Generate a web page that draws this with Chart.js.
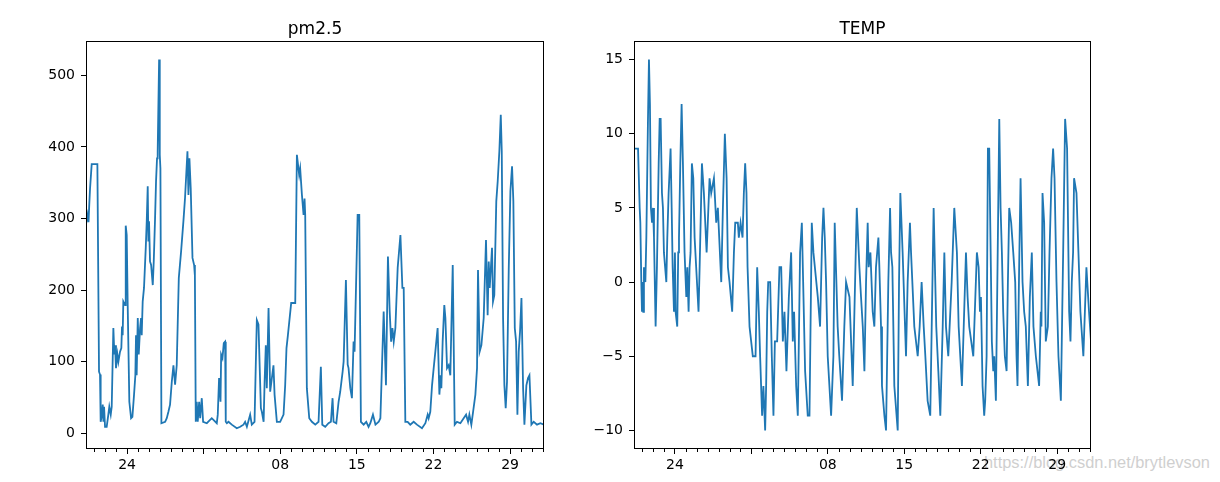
<!DOCTYPE html>
<html>
<head>
<meta charset="utf-8">
<script src="https://cdn.jsdelivr.net/npm/chart.js@4.4.1/dist/chart.umd.min.js"></script>
<style>
  body { margin: 0; background: #fff; width: 1220px; height: 482px; overflow: hidden; position: relative; }
  #mark { position: absolute; left: 984px; top: 453px; font: 16.4px "Liberation Sans", sans-serif; color: #cfcfcf; white-space: nowrap; }
  #pmChart { position: absolute; left: 0; top: 0; }
  #tempChart { position: absolute; left: 580px; top: 0; }
</style>
</head>
<body>
<div id="mark">https://blog.csdn.net/brytlevson</div>
<canvas id="pmChart" width="580" height="482"></canvas>
<canvas id="tempChart" width="640" height="482"></canvas>
<script>
// x values are day numbers counted from 1 Nov (so 31 = 1 Dec, 38 = 8 Dec ...)
var dayMin = 20.25, dayMax = 62.1;
var weekDays = [24, 31, 38, 45, 52, 59];
var weekLabels = ['24', '', '08', '15', '22', '29'];
var everyDay = [21,22,23,25,26,27,28,29,30,32,33,34,35,36,37,39,40,41,42,43,44,46,47,48,49,50,51,53,54,55,56,57,58,60,61,62];

var pmTicks = [0, 100, 200, 300, 400, 500];
var tempTicks = [-10, -5, 0, 5, 10, 15];

// [day, pm2.5]
var pm25 = [
  [20.25,292],[20.40,305],[20.48,295],[20.55,320],[20.62,342],[20.77,376],[21.29,376],[21.44,86],[21.53,82],[21.59,16],
  [21.70,25],[21.78,40],[21.84,16],[21.90,37],[21.99,9],[22.14,9],[22.29,26],[22.38,37],[22.51,26],[22.60,37],
  [22.75,147],[22.84,110],[22.90,123],[22.99,91],[23.12,110],[23.21,100],[23.36,114],[23.48,119],[23.54,149],[23.60,137],
  [23.66,184],[23.82,179],[23.88,290],[23.97,277],[24.06,179],[24.21,44],[24.37,21],[24.49,23],[24.64,54],[24.76,81],
  [24.82,137],[24.88,81],[24.98,161],[25.07,110],[25.19,147],[25.28,161],[25.34,137],[25.43,184],[25.55,203],[25.71,259],
  [25.80,296],[25.89,345],[25.95,268],[26.01,296],[26.10,240],[26.20,235],[26.35,207],[26.44,240],[26.56,300],[26.65,352],
  [26.74,384],[26.80,394],[26.93,522],[26.99,389],[27.05,370],[27.14,14],[27.48,16],[27.63,21],[27.78,30],[27.93,40],
  [28.09,72],[28.24,95],[28.39,68],[28.54,95],[28.73,217],[28.94,254],[29.15,296],[29.30,329],[29.52,394],[29.61,333],
  [29.70,384],[29.82,342],[29.98,245],[30.13,235],[30.20,220],[30.28,16],[30.37,44],[30.46,16],[30.59,44],[30.68,21],
  [30.83,49],[30.95,16],[31.29,14],[31.74,21],[32.20,14],[32.29,26],[32.41,77],[32.54,44],[32.60,110],[32.72,105],
  [32.84,126],[32.96,128],[33.02,16],[33.12,14],[33.27,16],[33.57,12],[34.03,7],[34.34,9],[34.64,12],[34.79,16],
  [34.95,9],[35.25,26],[35.40,12],[35.65,16],[35.77,100],[35.86,158],[36.01,152],[36.23,35],[36.32,30],[36.48,16],
  [36.57,72],[36.68,123],[36.77,63],[36.93,175],[37.08,58],[37.38,95],[37.48,54],[37.69,16],[37.99,16],[38.30,26],
  [38.45,67],[38.57,119],[38.70,137],[39.00,182],[39.37,182],[39.52,389],[39.73,361],[39.82,370],[39.98,333],[40.13,305],
  [40.22,328],[40.28,305],[40.43,63],[40.65,21],[40.89,16],[41.20,12],[41.50,16],[41.71,93],[41.84,12],[42.11,9],
  [42.41,14],[42.63,16],[42.78,49],[42.87,16],[43.12,14],[43.33,44],[43.48,58],[43.70,86],[43.79,100],[44.00,214],
  [44.16,96],[44.24,91],[44.40,63],[44.55,49],[44.70,128],[44.79,114],[45.07,305],[45.22,305],[45.37,16],[45.62,12],
  [45.86,16],[46.07,9],[46.23,14],[46.47,26],[46.70,12],[47.00,16],[47.15,21],[47.29,91],[47.45,170],[47.66,67],
  [47.84,247],[48.00,170],[48.13,128],[48.25,147],[48.37,128],[48.52,147],[48.73,231],[48.98,277],[49.16,203],[49.28,203],
  [49.43,16],[49.64,16],[49.88,12],[50.19,16],[50.49,12],[50.95,7],[51.26,14],[51.47,26],[51.56,21],[51.71,30],
  [51.87,67],[52.02,91],[52.17,114],[52.38,147],[52.54,54],[52.66,81],[52.72,63],[52.84,128],[52.99,179],[53.09,161],
  [53.24,91],[53.39,95],[53.54,81],[53.76,235],[53.94,12],[54.15,16],[54.46,14],[54.76,21],[54.98,26],[55.16,16],
  [55.28,26],[55.46,12],[55.62,30],[55.83,54],[55.98,91],[56.07,228],[56.22,114],[56.38,123],[56.59,161],[56.80,270],
  [56.95,165],[57.05,240],[57.14,203],[57.35,259],[57.44,184],[57.56,193],[57.74,324],[57.87,352],[58.02,394],[58.15,445],
  [58.24,394],[58.36,161],[58.48,67],[58.60,35],[58.72,72],[58.88,231],[59.03,338],[59.18,373],[59.30,324],[59.43,147],
  [59.55,128],[59.67,26],[59.79,114],[59.91,142],[60.04,189],[60.19,63],[60.31,12],[60.49,67],[60.64,77],[60.77,81],
  [60.95,12],[61.16,16],[61.46,12],[61.77,14],[62.10,12]
];

// [day, TEMP]
var temp = [
  [20.25,9],[20.62,9],[20.77,5],[20.83,4],[20.92,0],[20.98,-2],[21.04,0],[21.10,-2],[21.16,1],[21.29,0],
  [21.38,3],[21.53,11],[21.62,15],[21.71,12],[21.80,5],[21.90,4],[21.99,5],[22.08,3],[22.23,-3],[22.35,1],
  [22.51,8],[22.60,11],[22.69,11],[22.81,6],[22.90,5],[22.99,2],[23.21,0],[23.30,3],[23.42,6],[23.60,9],
  [23.70,5],[23.79,1],[23.91,-2],[24.00,2],[24.06,-2],[24.21,-3],[24.30,2],[24.37,3],[24.49,8],[24.61,12],
  [24.73,8],[24.88,2],[25.04,-1],[25.13,1],[25.25,-2],[25.34,1],[25.43,2],[25.55,8],[25.68,7],[25.80,3],
  [26.16,-2],[26.26,1],[26.47,8],[26.65,6],[26.90,2],[27.17,7],[27.32,6],[27.57,7],[27.78,4],[27.93,5],
  [28.24,0],[28.39,5],[28.57,10],[28.73,7],[28.85,1],[29.00,0],[29.24,-2],[29.40,2],[29.52,4],[29.76,4],
  [29.85,3],[30.01,4],[30.19,3],[30.31,6],[30.43,8],[30.55,6],[30.65,1],[30.83,-3],[30.98,-4],[31.13,-5],
  [31.38,-5],[31.53,1],[31.68,-2],[31.80,-5],[31.98,-9],[32.10,-7],[32.26,-10],[32.35,-7],[32.45,-2],[32.54,0],
  [32.72,0],[32.87,-5],[33.02,-9],[33.15,-4],[33.36,-4],[33.57,1],[33.73,1],[33.88,-4],[34.03,-2],[34.21,-6],
  [34.43,-1],[34.64,2],[34.79,-4],[34.91,-2],[35.10,-7],[35.25,-9],[35.46,2],[35.62,4],[35.74,0],[35.92,-6],
  [36.16,-9],[36.32,-9],[36.53,4],[36.68,2],[37.08,-1],[37.29,-3],[37.48,3],[37.60,5],[37.72,3],[37.84,0],
  [37.99,-5],[38.30,-9],[38.51,-5],[38.63,4],[38.90,-3],[39.05,-5],[39.30,-8],[39.51,-3],[39.67,0],[39.98,-1],
  [40.28,-7],[40.65,5],[40.89,1],[41.04,-1],[41.20,-3],[41.35,-6],[41.50,0],[41.65,4],[41.74,1],[41.90,2],
  [42.11,-2],[42.26,-3],[42.41,1],[42.63,3],[42.72,1],[42.87,-3],[42.96,-7],[43.18,-9],[43.33,-10],[43.54,0],
  [43.70,5],[43.79,2],[43.91,1],[44.09,-7],[44.40,-10],[44.52,0],[44.64,6],[44.85,2],[45.16,-5],[45.31,0],
  [45.52,4],[45.62,2],[45.92,-3],[46.23,-5],[46.41,-3],[46.59,0],[46.78,-3],[46.93,-5],[47.14,-8],[47.38,-9],
  [47.69,5],[47.93,-3],[48.12,-6],[48.30,-9],[48.52,-3],[48.67,2],[48.82,-3],[49.03,-5],[49.34,0],[49.58,5],
  [49.82,2],[49.98,-3],[50.28,-7],[50.65,2],[50.80,-1],[50.95,-3],[51.32,-5],[51.65,2],[51.81,1],[51.93,-2],
  [52.02,-1],[52.17,-7],[52.32,-9],[52.41,-8],[52.54,-5],[52.66,9],[52.78,9],[52.93,1],[53.02,-4],[53.15,-6],
  [53.24,-5],[53.39,-8],[53.54,1],[53.70,11],[53.82,5],[53.94,2],[54.06,-2],[54.21,-5],[54.37,-6],[54.49,0],
  [54.61,5],[54.79,4],[54.98,2],[55.16,0],[55.28,-5],[55.37,-7],[55.52,1],[55.65,7],[55.83,0],[55.98,-2],
  [56.13,-3],[56.32,-7],[56.50,-1],[56.68,2],[56.83,-3],[57.05,-5],[57.35,-7],[57.50,-2],[57.56,-3],[57.66,6],
  [57.81,4],[57.96,-4],[58.15,-3],[58.30,2],[58.48,7],[58.63,9],[58.76,7],[58.94,0],[59.12,-5],[59.34,-8],
  [59.55,2],[59.73,11],[59.91,9],[60.10,-2],[60.22,-4],[60.34,0],[60.46,2],[60.55,7],[60.77,6],[60.95,2],
  [61.13,-2],[61.40,-5],[61.68,1],[61.92,-2],[62.10,-4]
];

var lineColor = '#1f77b4';

// frame on all four sides, the short daily ticks, and the title centred over the axes box
var framePlugin = {
  id: 'frame',
  afterDraw: function(chart) {
    var a = chart.chartArea, ctx = chart.ctx, xs = chart.scales.x;
    ctx.save();
    ctx.strokeStyle = '#000';
    ctx.lineWidth = 1;
    ctx.strokeRect(Math.round(a.left) + 0.5, Math.round(a.top) + 0.5,
                   Math.round(a.right - a.left) - 1, Math.round(a.bottom - a.top) - 1);
    ctx.beginPath();
    everyDay.forEach(function(d) {
      var px = Math.round(xs.getPixelForValue(d)) + 0.5;
      ctx.moveTo(px, a.bottom);
      ctx.lineTo(px, a.bottom + 3);
    });
    ctx.stroke();
    ctx.fillStyle = '#000';
    ctx.font = '17px "DejaVu Sans"';
    ctx.textAlign = 'center';
    ctx.textBaseline = 'alphabetic';
    ctx.fillText(chart.options.plugins.frame.title, (a.left + a.right) / 2, a.top - 7);
    ctx.restore();
  }
};

function makeChart(id, title, rows, yMin, yMax, yTicks, yWidth, rightPad) {
  return new Chart(document.getElementById(id), {
    type: 'line',
    data: {
      datasets: [{
        data: rows.map(function(r) { return { x: r[0], y: r[1] }; }),
        borderColor: lineColor,
        borderWidth: 1.8,
        pointRadius: 0,
        tension: 0,
        fill: false
      }]
    },
    options: {
      responsive: false,
      animation: false,
      layout: { padding: { left: 0, right: rightPad, top: 41, bottom: 0 } },
      plugins: {
        legend: { display: false },
        tooltip: { enabled: false },
        title: { display: false },
        frame: { title: title }
      },
      scales: {
        x: {
          type: 'linear',
          min: dayMin,
          max: dayMax,
          afterBuildTicks: function(s) {
            s.ticks = weekDays.map(function(d) { return { value: d }; });
          },
          afterFit: function(s) { s.height = 33; },
          ticks: {
            autoSkip: false,
            maxRotation: 0,
            padding: 3,
            color: '#000',
            font: { family: 'DejaVu Sans', size: 14 },
            callback: function(v) { return weekLabels[weekDays.indexOf(v)]; }
          },
          grid: { drawOnChartArea: false, drawTicks: true, tickLength: 5, color: '#000' },
          border: { display: false }
        },
        y: {
          min: yMin,
          max: yMax,
          afterBuildTicks: function(s) {
            s.ticks = yTicks.map(function(v) { return { value: v }; });
          },
          afterFit: function(s) { s.width = yWidth; },
          ticks: {
            padding: 6,
            color: '#000',
            font: { family: 'DejaVu Sans', size: 14 },
            callback: function(v) { return String(v).replace('-', '\u2212'); }
          },
          grid: { drawOnChartArea: false, drawTicks: true, tickLength: 5, color: '#000' },
          border: { display: false }
        }
      }
    },
    plugins: [framePlugin]
  });
}

makeChart('pmChart', 'pm2.5', pm25, -22, 548, pmTicks, 86, 36);
makeChart('tempChart', 'TEMP', temp, -11.25, 16.25, tempTicks, 54, 129);
</script>
</body>
</html>
